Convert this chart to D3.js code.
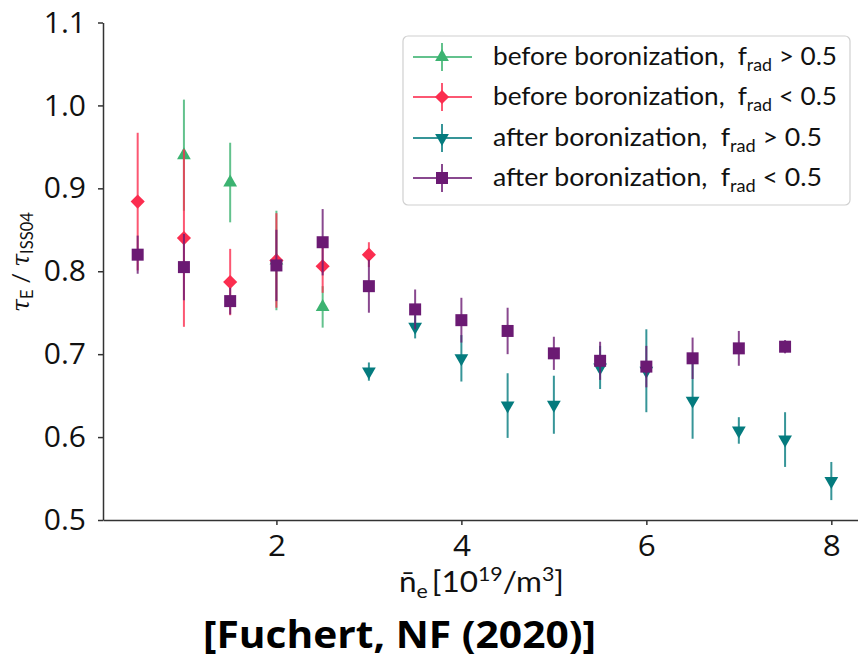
<!DOCTYPE html>
<html>
<head>
<meta charset="utf-8">
<script src="https://cdn.jsdelivr.net/npm/d3@7"></script>
<style>
  body { margin: 0; background: #fff; }
  svg { display: block; font-family: 'Open Sans', sans-serif; }
</style>
</head>
<body>
<div id="chart"></div>
<script>
// Data (density in 1e19/m^3, confinement ratio, error half-width)
const beforeHighX = [1, 1.5, 2, 2.5];
const beforeHighY = [0.940, 0.907, 0.813, 0.757];
const beforeHighErr = [0.067, 0.048, 0.060, 0.025];

const beforeLowX = [0.5, 1, 1.5, 2, 2.5, 3];
const beforeLowY = [0.884, 0.840, 0.787, 0.813, 0.806, 0.820];
const beforeLowErr = [0.083, 0.107, 0.040, 0.057, 0.032, 0.015];

const afterHighX = [3, 3.5, 4, 4.5, 5, 5.5, 6, 6.5, 7, 7.5, 8];
const afterHighY = [0.679, 0.733, 0.695, 0.638, 0.639, 0.684, 0.680, 0.644, 0.608, 0.597, 0.547];
const afterHighErr = [0.011, 0.014, 0.028, 0.039, 0.035, 0.026, 0.050, 0.046, 0.016, 0.033, 0.023];

const afterLowX = [0.5, 1, 1.5, 2, 2.5, 3, 3.5, 4, 4.5, 5, 5.5, 6, 6.5, 7, 7.5];
const afterLowY = [0.820, 0.805, 0.764, 0.807, 0.835, 0.782, 0.754, 0.741, 0.728, 0.701, 0.692, 0.685, 0.695, 0.707, 0.709];
const afterLowErr = [0.023, 0.040, 0.016, 0.043, 0.040, 0.032, 0.024, 0.027, 0.028, 0.020, 0.023, 0.025, 0.025, 0.021, 0.008];

const xTicks = [2, 4, 6, 8];
const yTicks = [0.5, 0.6, 0.7, 0.8, 0.9, 1.0, 1.1];

const seriesNames = ['before boronization,', 'before boronization,', 'after boronization,', 'after boronization,'];
const seriesConds = ['> 0.5', '< 0.5', '> 0.5', '< 0.5'];

// Build series table (drawing order = legend order)
const zip = (xs, ys, es) => xs.map((x, i) => ({ x, y: ys[i], e: es[i] }));
const series = [
    { name: seriesNames[0], cond: seriesConds[0], color: '#3cb371', marker: 'up', data: zip(beforeHighX, beforeHighY, beforeHighErr) },
    { name: seriesNames[1], cond: seriesConds[1], color: '#fb2d4f', marker: 'diamond', data: zip(beforeLowX, beforeLowY, beforeLowErr) },
    { name: seriesNames[2], cond: seriesConds[2], color: '#047b7e', marker: 'down', data: zip(afterHighX, afterHighY, afterHighErr) },
    { name: seriesNames[3], cond: seriesConds[3], color: '#6b1a73', marker: 'square', data: zip(afterLowX, afterLowY, afterLowErr) }
];

const width = 858, height = 658;
const svg = d3.select('#chart').append('svg')
    .attr('width', width)
    .attr('height', height);

// Scales
const x = d3.scaleLinear().domain([0.125, 8.375]).range([103, 866]);
const y = d3.scaleLinear().domain([0.5, 1.1]).range([520, 22.5]);

// Marker path for each style
function markerPath(kind) {
    if (kind === 'square') return d3.symbol(d3.symbolSquare, 144)();
    if (kind === 'diamond') return d3.symbol(d3.symbolSquare, 100)();
    return d3.symbol(d3.symbolTriangle, 82)();
}
function markerTransform(kind, px, py) {
    if (kind === 'diamond') return `translate(${px},${py}) rotate(45)`;
    if (kind === 'down') return `translate(${px},${py}) rotate(180)`;
    return `translate(${px},${py})`;
}

// Axes
const axisY = svg.append('g')
    .attr('transform', `translate(${x.range()[0]},0)`)
    .call(d3.axisLeft(y).tickValues(yTicks).tickFormat(d3.format('.1f')).tickSize(5).tickSizeOuter(0).tickPadding(12));
axisY.attr('font-family', "'Open Sans', sans-serif");
axisY.selectAll('text').attr('font-size', 30).attr('fill', '#111');

const axisX = svg.append('g')
    .attr('transform', `translate(0,${y.range()[0]})`)
    .call(d3.axisBottom(x).tickValues(xTicks).tickFormat(d3.format('d')).tickSize(5).tickSizeOuter(0).tickPadding(10));
axisX.attr('font-family', "'Open Sans', sans-serif");
axisX.selectAll('text').attr('font-size', 30).attr('fill', '#111')
    .attr('textLength', 18).attr('lengthAdjust', 'spacingAndGlyphs');

svg.selectAll('.domain, .tick line').attr('stroke', '#333').attr('stroke-width', 1.5);

// Error bars and markers
series.forEach(s => {
    const g = svg.append('g');
    g.selectAll('line.err').data(s.data).join('line')
        .attr('class', 'err')
        .attr('x1', d => x(d.x)).attr('x2', d => x(d.x))
        .attr('y1', d => y(d.y - d.e)).attr('y2', d => y(d.y + d.e))
        .attr('stroke', s.color).attr('stroke-width', 2).attr('stroke-opacity', 0.8);
    g.selectAll('path.mk').data(s.data).join('path')
        .attr('class', 'mk')
        .attr('d', markerPath(s.marker))
        .attr('transform', d => markerTransform(s.marker, x(d.x), y(d.y)))
        .attr('fill', s.color);
});

// Legend
const legend = svg.append('g');
legend.append('rect')
    .attr('x', 403).attr('y', 36).attr('width', 447).attr('height', 169).attr('rx', 5)
    .attr('fill', '#fff').attr('fill-opacity', 0.85)
    .attr('stroke', '#d0d0d0').attr('stroke-width', 1.2);

const rowY = [57, 97, 138, 178];
const textLen = [344, 344, 329, 329];
series.forEach((s, i) => {
    const row = legend.append('g').attr('transform', `translate(0,${rowY[i]})`);
    row.append('line').attr('x1', 413).attr('x2', 472).attr('y1', 0).attr('y2', 0)
        .attr('stroke', s.color).attr('stroke-width', 2).attr('stroke-opacity', 0.8);
    row.append('line').attr('x1', 442).attr('x2', 442).attr('y1', -14).attr('y2', 14)
        .attr('stroke', s.color).attr('stroke-width', 2).attr('stroke-opacity', 0.8);
    row.append('path').attr('d', markerPath(s.marker))
        .attr('transform', markerTransform(s.marker, 442, 0))
        .attr('fill', s.color);
    const t = row.append('text')
        .attr('x', 493).attr('y', 8)
        .attr('font-family', 'Lato, sans-serif').attr('font-size', 25).attr('fill', '#111')
        .attr('textLength', textLen[i]).attr('lengthAdjust', 'spacingAndGlyphs');
    t.append('tspan').text(s.name + '\u2002f');
    t.append('tspan').attr('font-size', 17).attr('dy', 6).text('rad');
    t.append('tspan').attr('dy', -6).text(' ' + s.cond);
});

// Axis labels
const xl = svg.append('text')
    .attr('x', 399).attr('y', 592)
    .attr('font-family', 'Lato, sans-serif').attr('font-size', 28).attr('fill', '#111')
    .attr('textLength', 165).attr('lengthAdjust', 'spacingAndGlyphs');
xl.append('tspan').text('n\u0304');
xl.append('tspan').attr('font-size', 19).attr('dy', 6).text('e');
xl.append('tspan').attr('dy', -6).text('\u2009[10');
xl.append('tspan').attr('font-size', 19).attr('dy', -11).text('19');
xl.append('tspan').attr('dy', 11).text('/m');
xl.append('tspan').attr('font-size', 19).attr('dy', -11).text('3');
xl.append('tspan').attr('dy', 11).text(']');

const yl = svg.append('text')
    .attr('transform', 'translate(29,312) rotate(-90)')
    .attr('font-family', "'DejaVu Serif', serif").attr('font-size', 24).attr('fill', '#111')
    .attr('textLength', 100).attr('lengthAdjust', 'spacingAndGlyphs');
yl.append('tspan').attr('font-style', 'italic').text('\u03c4');
yl.append('tspan').attr('font-family', 'Lato, sans-serif').attr('font-size', 17).attr('dy', 4).text('E');
yl.append('tspan').attr('font-family', 'Lato, sans-serif').attr('dy', -4).text(' / ');
yl.append('tspan').attr('font-style', 'italic').text('\u03c4');
yl.append('tspan').attr('font-family', 'Lato, sans-serif').attr('font-size', 17).attr('dy', 4).text('ISS04');

// Citation
svg.append('text')
    .attr('x', 203).attr('y', 648)
    .attr('font-family', "'Open Sans', sans-serif").attr('font-weight', 'bold').attr('font-size', 37)
    .attr('fill', '#000')
    .attr('textLength', 393).attr('lengthAdjust', 'spacingAndGlyphs')
    .text('[Fuchert, NF (2020)]');
</script>
</body>
</html>
